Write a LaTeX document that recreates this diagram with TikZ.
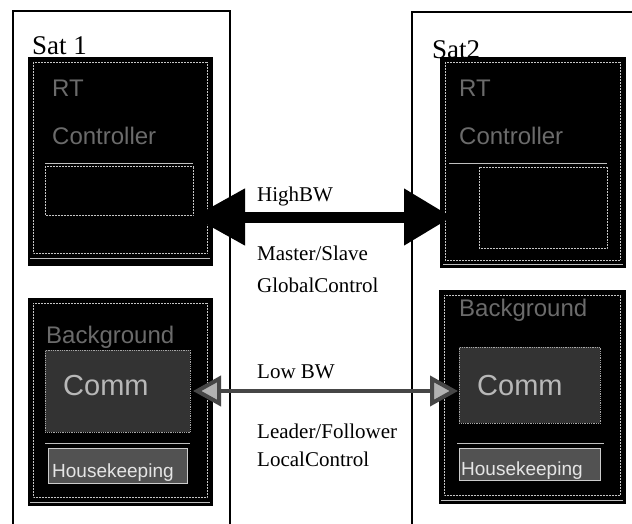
\documentclass[tikz,border=0pt]{standalone}
\usepackage{fontspec}
\setmainfont{Liberation Serif}
\newfontfamily\boxfont{Liberation Sans}
\usetikzlibrary{arrows.meta}
\definecolor{dimtxt}{gray}{0.42}
\definecolor{lighttxt}{gray}{0.72}
\begin{document}
\begin{tikzpicture}[x=1pt,y=-1pt,
  satbox/.style={draw=black, line width=1.6pt, anchor=north west, inner sep=0pt},
  blackbox/.style={fill=black, draw=black, anchor=north west, inner sep=0pt},
  commbox/.style={fill=black!80, draw=white!65!black, densely dotted, line width=0.8pt, anchor=north west, inner sep=0pt},
  hkbox/.style={fill=black!68, draw=white!80!black, line width=0.8pt, anchor=north west, inner sep=0pt},
  wline/.style={draw=white!75!black, line width=0.8pt},
  inset/.style={draw=gray!45, densely dotted, line width=0.5pt},
  lbl/.style={font=\fontsize{21}{23}\selectfont, anchor=base west, inner sep=0pt},
  satlbl/.style={font=\fontsize{27}{30}\selectfont, anchor=base west, inner sep=0pt},
  dimlbl/.style={font=\boxfont\fontsize{24}{26}\selectfont, text=dimtxt, anchor=base west, inner sep=0pt},
  commlbl/.style={font=\boxfont\fontsize{29}{31}\selectfont, text=lighttxt, anchor=base west, inner sep=0pt},
  hklbl/.style={font=\boxfont\fontsize{19}{21}\selectfont, text=white!90!black, anchor=base west, inner sep=0pt},
  hibw/.style={line width=11pt, {Triangle[length=52pt,width=54pt]}-{Triangle[length=48pt,width=54pt]}},
  lobw/.style={line width=4pt, draw=gray!55!black,
    {Triangle[length=28pt,width=30pt,fill=gray!60]}-{Triangle[length=28pt,width=30pt,fill=gray!60]}},
]
\useasboundingbox (0,0) rectangle (632,524);
\fill[white] (0,0) rectangle (632,524);

% outer satellite boxes
\node[satbox, minimum width=217pt, minimum height=530pt] (sat1) at (12,10) {};
\node[satbox, minimum width=240pt, minimum height=530pt] (sat2) at (411,11) {};
\node[satlbl] (sat1lbl) at (32,55) {Sat 1};
\node[satlbl] (sat2lbl) at (432,59) {Sat2};

% RT controller boxes
\node[blackbox, minimum width=184pt, minimum height=208pt] (rt1) at (28,57) {};
\node[blackbox, minimum width=185pt, minimum height=210pt] (rt2) at (440,57) {};
\draw[inset] (33,62) rectangle (207,253);
\draw[inset] (445,62) rectangle (620,260);
\node[dimlbl] (rt1a) at (52,97) {RT};
\node[dimlbl] (rt1b) at (52,145) {Controller};
\node[dimlbl] (rt2a) at (459,97) {RT};
\node[dimlbl] (rt2b) at (459,145) {Controller};
\draw[wline] (45,163) -- (193,163);
\draw[wline] (449,163) -- (607,163);
\draw[inset] (45,166) rectangle (193,215);
\draw[inset] (479,167) rectangle (607,248);
\draw[wline] (30,258) -- (210,258);
\draw[wline] (443,264) -- (623,264);

% Background / Comm boxes
\node[blackbox, minimum width=184pt, minimum height=207pt] (bg1) at (28,298) {};
\node[blackbox, minimum width=186pt, minimum height=213pt] (bg2) at (439,290) {};
\draw[inset] (33,303) rectangle (207,497);
\draw[inset] (444,295) rectangle (620,495);
\node[dimlbl] (bg1t) at (46,343) {Background};
\node[dimlbl] (bg2t) at (459,316) {Background};
\node[commbox, minimum width=145pt, minimum height=82pt] (comm1) at (45,350) {};
\node[commbox, minimum width=141pt, minimum height=76pt] (comm2) at (459,347) {};
\node[commlbl] (comm1t) at (63,395) {Comm};
\node[commlbl] (comm2t) at (477,395) {Comm};
\draw[wline] (45,443) -- (190,443);
\draw[wline] (457,443) -- (604,443);
\node[hkbox, minimum width=139pt, minimum height=35pt] (hk1) at (48,448) {};
\node[hkbox, minimum width=141pt, minimum height=32pt] (hk2) at (459,448) {};
\node[hklbl] (hk1t) at (52,477) {Housekeeping};
\node[hklbl] (hk2t) at (461,475) {Housekeeping};
\draw[wline] (30,502) -- (210,502);
\draw[wline] (441,500) -- (623,500);

% connectors
\coordinate (hbl) at (193,217);
\coordinate (hbr) at (452,217);
\draw[hibw] (hbl) -- (hbr);
\coordinate (lbl) at (193,391);
\coordinate (lbr) at (458,391);
\draw[lobw] (lbl) -- (lbr);

% labels
\node[lbl] (t1) at (257,201) {HighBW};
\node[lbl] (t2) at (257,260) {Master/Slave};
\node[lbl] (t3) at (257,292) {GlobalControl};
\node[lbl] (t4) at (257,378) {Low BW};
\node[lbl] (t5) at (257,438) {Leader/Follower};
\node[lbl] (t6) at (257,466) {LocalControl};
\end{tikzpicture}
\end{document}
